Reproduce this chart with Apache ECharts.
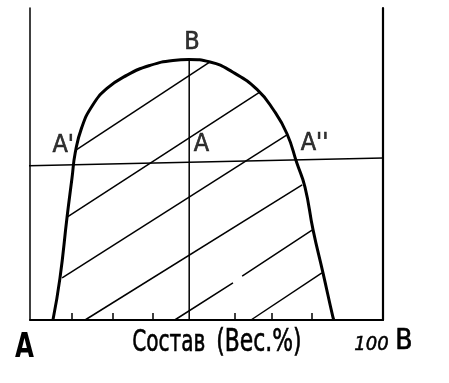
<!DOCTYPE html>
<html>
<head>
<meta charset="utf-8">
<script src="https://cdn.jsdelivr.net/npm/echarts@6/dist/echarts.min.js"></script>
<style>
html,body{margin:0;padding:0;background:#fff;}
#c{width:449px;height:383px;}
</style>
</head>
<body>
<div id="c"></div>
<script>
// Binodal (solubility) curve: composition (wt.% B) vs temperature (arbitrary units)
const binodal = [
  [6.5, 0], [8.5, 13.5], [10.5, 33.0], [11.9, 45.5], [12.8, 53.5], [14.6, 61.5],
  [17.6, 68.6], [21.8, 74.2], [27.5, 78.5], [34.0, 81.6], [40.5, 83.2], [45.0, 83.5],
  [51.0, 82.7], [57.5, 79.4], [64.3, 73.9], [69.0, 67.3], [72.8, 59.7], [75.6, 50.3],
  [77.9, 42.6], [80.2, 28.8], [83.0, 15.1], [85.8, 1.0], [86.1, 0]
];
// Tie lines (hatching) inside the two-phase region
const tieA = [[13.1, 54.5], [51.0, 82.7]];
const tieB = [[10.5, 33.0], [65.2, 73.1]];
const tieC = [[9.1, 13.5], [72.8, 59.3]];
const tieD = [[15.6, 0], [77.1, 43.3]];
const tieE = [[41.0, 0], [57.5, 11.9], null, [60.1, 14.1], [79.9, 28.8]];
const tieF = [[62.6, 0], [82.7, 15.1]];
// Isotherm through A', A, A''
const isotherm = [[-0.9, 49.4], [100, 51.9]];
// Vertical line through critical point B
const criticalLine = [[45.1, 0], [45.1, 83.5]];
// Bottom axis tick positions (wt.%)
const tickValues = [11.9, 23.5, 34.8, 58.1, 68.6, 79.9];
// Point labels
const pointLabels = [
  {name: 'B', value: [45.9, 88.8]},
  {name: "A'", value: [9.4, 56.0]},
  {name: 'A', value: [48.6, 56.4]},
  {name: "A''", value: [80.6, 56.7]}
];

const chart = echarts.init(document.getElementById('c'), null, {renderer: 'canvas'});
const FONT = "'Liberation Sans Narrow','DejaVu Sans Condensed',sans-serif";
const thin = (data) => ({
  type: 'line', data: data, symbol: 'none', silent: true, clip: false,
  lineStyle: {color: '#000', width: 1.5}, connectNulls: false, animation: false
});
chart.setOption({
  animation: false,
  backgroundColor: '#fff',
  grid: {left: 30, right: 66, top: 8, bottom: 63},
  xAxis: {
    type: 'value', min: 0, max: 100,
    axisLine: {show: true, onZero: false, lineStyle: {color: '#000', width: 2}},
    axisTick: {show: true, inside: true, length: 7, customValues: tickValues, lineStyle: {color: '#000', width: 1.5}},
    axisLabel: {show: false},
    splitLine: {show: false}
  },
  yAxis: [
    {type: 'value', min: 0, max: 100, position: 'left',
     axisLine: {show: true, onZero: false, lineStyle: {color: '#000', width: 1.5}},
     axisTick: {show: false}, axisLabel: {show: false}, splitLine: {show: false}},
    {type: 'value', min: 0, max: 100, position: 'right',
     axisLine: {show: true, onZero: false, lineStyle: {color: '#000', width: 2.2}},
     axisTick: {show: false}, axisLabel: {show: false}, splitLine: {show: false}}
  ],
  series: [
    thin(tieA), thin(tieB), thin(tieC), thin(tieD), thin(tieE), thin(tieF),
    thin(isotherm), thin(criticalLine),
    {type: 'line', data: binodal, smooth: 0.5, symbol: 'none', silent: true,
     lineStyle: {color: '#000', width: 3}},
    {type: 'scatter', data: pointLabels, symbolSize: 0, silent: true,
     label: {show: true, position: 'inside', formatter: p => p.name,
             color: '#000', fontFamily: FONT, fontSize: 25,
             textBorderColor: '#000', textBorderWidth: 0.6}}
  ],
  graphic: [
    {type: 'text', left: 15, top: 331, scaleX: 0.8, style: {text: 'A', fontFamily: FONT, fontSize: 34, fill: '#000', fontWeight: 'bold'}},
    {type: 'text', left: 132, top: 327, scaleX: 0.72, style: {text: 'Состав', fontFamily: FONT, fontSize: 31, fill: '#000', stroke: '#000', lineWidth: 0.6}},
    {type: 'text', left: 216, top: 326, scaleX: 0.76, style: {text: '(Вес.%)', fontFamily: FONT, fontSize: 32, fill: '#000', stroke: '#000', lineWidth: 0.6}},
    {type: 'text', left: 354, top: 335, style: {text: '100', fontFamily: FONT, fontSize: 20, fontStyle: 'italic', fill: '#000', stroke: '#000', lineWidth: 0.5}},
    {type: 'text', left: 395, top: 327, style: {text: 'B', fontFamily: FONT, fontSize: 28, fill: '#000', stroke: '#000', lineWidth: 0.6}}
  ]
});
</script>
</body>
</html>
